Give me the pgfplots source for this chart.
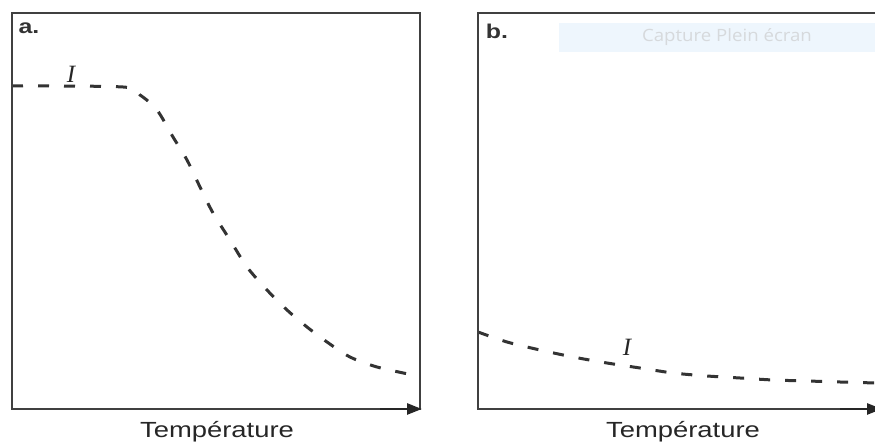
\documentclass[border=0pt]{standalone}
\usepackage{fontspec}
\setmainfont{Liberation Sans}
\newfontfamily\serifit{Liberation Serif}
\newfontfamily\wmfont{Open Sans}
\usepackage{pgfplots}
\pgfplotsset{compat=1.18}
\usetikzlibrary{arrows.meta}
\definecolor{frame}{HTML}{404040}
\definecolor{wmbox}{HTML}{EEF6FD}
\definecolor{wmtext}{HTML}{D6D9DC}
\pgfplotstableread{
x y
12 323
123 322
140 314
157 299
173 272
187 249
200 222
213 196
230 169
247 142
267 119
287 99
307 82
327 67
350 52
377 42
413 34
}\dataA
\pgfplotstableread{
x y
478 77
507 67
540 59
573 52
607 46
640 41
673 36
707 33
740 31
773 29
807 28
840 27
876 26
}\dataB
\begin{document}
\begin{tikzpicture}[x=1bp,y=1bp]
\clip (0,0) rectangle (875,443);
\path[use as bounding box] (0,0) rectangle (875,443);
\pgfplotsset{every axis/.append style={
  scale only axis, x=1bp, y=1bp, ymin=0, ymax=396,
  axis line style={draw=none}, ticks=none, clip=false,
  anchor=south west}}
% panel a
\begin{axis}[at={(12,34)}, xmin=12, xmax=420]
\addplot[black!80, line width=3bp, dash pattern=on 11bp off 15bp, smooth, tension=0.5] table[x=x,y=y]{\dataA};
\draw[frame, line width=2.6bp] (rel axis cs:0,0) rectangle (rel axis cs:1,1);
\draw[black!85, line width=2.6bp, -{Triangle[length=15bp,width=11bp]}] (axis cs:380,0) -- (axis cs:422,0);
\node[font=\bfseries\fontsize{20}{21}\selectfont, text=black!80, anchor=center] at (axis cs:29,381) {\scalebox{1.25}[1]{a.}};
\node[font=\serifit\itshape\fontsize{25}{26}\selectfont, text=black!85] at (axis cs:71,335) {I};
\node[font=\fontsize{22}{23}\selectfont, text=black!85] at (axis cs:217,-23) {\scalebox{1.25}[1]{Température}};
\end{axis}
% panel b
\begin{axis}[at={(478,34)}, xmin=478, xmax=876]
\addplot[black!80, line width=3bp, dash pattern=on 11bp off 15bp, smooth, tension=0.5] table[x=x,y=y]{\dataB};
\draw[frame, line width=2.6bp] (rel axis cs:1,1) -- (rel axis cs:0,1) -- (rel axis cs:0,0) -- (axis cs:850,0);
\draw[black!85, line width=2.6bp, -{Triangle[length=15bp,width=11bp]}] (axis cs:840,0) -- (axis cs:882,0);
\node[font=\bfseries\fontsize{20}{21}\selectfont, text=black!80, anchor=center] at (axis cs:497,378) {\scalebox{1.25}[1]{b.}};
\node[font=\serifit\itshape\fontsize{25}{26}\selectfont, text=black!85] at (axis cs:627,62) {I};
\node[font=\fontsize{22}{23}\selectfont, text=black!85] at (axis cs:683,-23) {\scalebox{1.25}[1]{Température}};
\fill[wmbox] (axis cs:559,357) rectangle (axis cs:880,386);
\node[font=\wmfont\fontsize{17}{18}\selectfont, text=wmtext] at (axis cs:727,372) {\scalebox{1.1}[1]{Capture Plein écran}};
\end{axis}
\end{tikzpicture}
\end{document}
